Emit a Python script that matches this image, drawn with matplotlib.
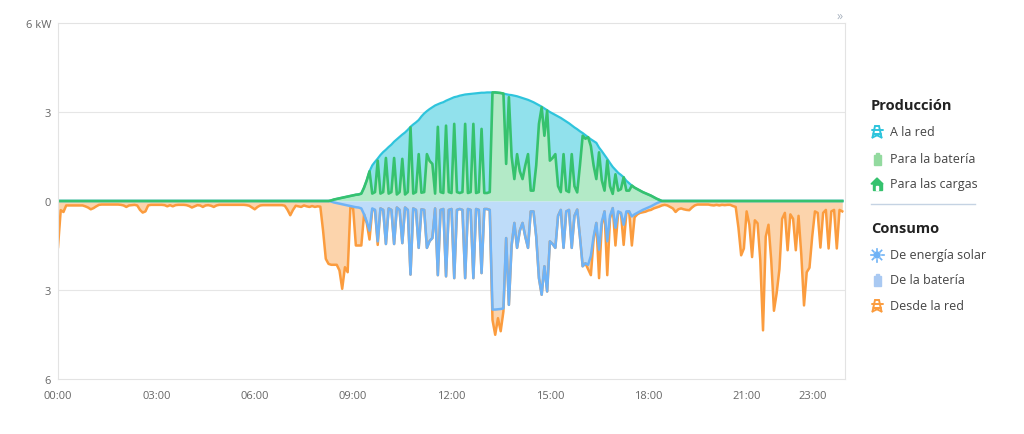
import numpy as np
import matplotlib.pyplot as plt
from matplotlib.patches import Rectangle, Polygon, Circle

plt.rcParams['font.family'] = ['Open Sans', 'DejaVu Sans']

# datos cada 5 minutos (kW), una fila = una hora
produccion_total = (
    [0.0] * 96 +
    [0, 0, 0, 0, 0.02, 0.05, 0.07, 0.09, 0.11, 0.13, 0.15, 0.17] +            # 08
    [0.19, 0.21, 0.22, 0.25, 0.45, 0.7, 1.0, 1.2, 1.32, 1.43, 1.55, 1.65] +    # 09
    [1.73, 1.82, 1.9, 2.0, 2.08, 2.16, 2.24, 2.31, 2.4, 2.5, 2.58, 2.65] +     # 10
    [2.73, 2.85, 2.95, 3.03, 3.1, 3.16, 3.22, 3.26, 3.3, 3.33, 3.38, 3.42] +   # 11
    [3.46, 3.5, 3.52, 3.55, 3.57, 3.59, 3.6, 3.61, 3.62, 3.63, 3.64, 3.65] +   # 12
    [3.65, 3.66, 3.66, 3.66, 3.66, 3.65, 3.64, 3.62, 3.6, 3.58, 3.57, 3.55] +  # 13
    [3.53, 3.5, 3.47, 3.44, 3.41, 3.37, 3.33, 3.28, 3.23, 3.18, 3.12, 3.06] +  # 14
    [3.0, 2.95, 2.9, 2.85, 2.8, 2.74, 2.68, 2.62, 2.55, 2.48, 2.42, 2.35] +    # 15
    [2.29, 2.22, 2.15, 2.08, 2.02, 1.96, 1.8, 1.68, 1.55, 1.42, 1.28, 1.15] +  # 16
    [1.05, 0.95, 0.88, 0.8, 0.68, 0.6, 0.52, 0.45, 0.4, 0.35, 0.3, 0.26] +     # 17
    [0.22, 0.18, 0.13, 0.08, 0.04, 0, 0, 0, 0, 0, 0, 0] +                      # 18
    [0.0] * 60
)

para_las_cargas = (
    [0.0] * 96 +
    [0, 0, 0, 0, 0.02, 0.05, 0.07, 0.09, 0.11, 0.13, 0.15, 0.17] +            # 08
    [0.19, 0.21, 0.22, 0.25, 0.45, 0.7, 1.0, 0.25, 0.3, 1.36, 0.25, 0.3] +     # 09
    [1.45, 0.25, 0.3, 1.45, 0.22, 0.3, 1.42, 0.22, 0.3, 2.48, 0.25, 0.3] +     # 10
    [1.58, 0.28, 0.3, 1.58, 1.35, 1.25, 0.25, 2.5, 0.3, 0.27, 2.54, 0.3] +     # 11
    [0.27, 2.6, 0.3, 0.27, 0.3, 2.6, 0.27, 0.3, 2.6, 0.27, 0.3, 2.43] +        # 12
    [0.27, 0.27, 0.3, 3.66, 3.66, 3.65, 3.64, 3.62, 1.25, 3.5, 1.5, 0.74] +    # 13
    [1.58, 1.0, 0.74, 1.2, 1.58, 0.35, 0.35, 1.2, 2.6, 3.16, 2.2, 3.05] +      # 14
    [1.36, 1.45, 1.58, 0.5, 0.3, 1.58, 0.35, 0.3, 1.58, 0.5, 0.29, 1.2] +      # 15
    [2.2, 2.1, 2.15, 1.85, 1.2, 0.74, 1.64, 0.7, 0.35, 1.36, 0.5, 0.24] +      # 16
    [0.9, 0.35, 0.4, 0.8, 0.35, 0.35, 0.52, 0.45, 0.4, 0.35, 0.3, 0.26] +      # 17
    [0.22, 0.18, 0.13, 0.08, 0.04, 0, 0, 0, 0, 0, 0, 0] +                      # 18
    [0.0] * 60
)

# lo consumido de la energía solar coincide con lo producido para las cargas
de_energia_solar = para_las_cargas

desde_la_red = (
    [1.55, 0.31, 0.37, 0.15, 0.15, 0.15, 0.15, 0.15, 0.15, 0.15, 0.18, 0.22] +  # 00
    [0.28, 0.24, 0.18, 0.13, 0.12, 0.12, 0.12, 0.12, 0.12, 0.12, 0.12, 0.13] +  # 01
    [0.15, 0.2, 0.15, 0.14, 0.13, 0.15, 0.3, 0.39, 0.35, 0.15, 0.13, 0.13] +    # 02
    [0.13, 0.13, 0.13, 0.14, 0.18, 0.14, 0.18, 0.14, 0.13, 0.13, 0.13, 0.14] +  # 03
    [0.17, 0.22, 0.18, 0.14, 0.15, 0.2, 0.15, 0.14, 0.16, 0.2, 0.15, 0.13] +    # 04
    [0.13, 0.13, 0.13, 0.13, 0.13, 0.13, 0.13, 0.13, 0.13, 0.14, 0.16, 0.22] +  # 05
    [0.28, 0.2, 0.15, 0.14, 0.14, 0.14, 0.14, 0.14, 0.14, 0.14, 0.14, 0.16] +   # 06
    [0.3, 0.48, 0.3, 0.16, 0.18, 0.2, 0.15, 0.18, 0.2, 0.17, 0.2, 0.18] +       # 07
    [0.19, 1.0, 1.95, 2.12, 2.13, 2.1, 2.08, 2.25, 2.85, 2.1, 2.25, 0.05] +     # 08
    [0.06, 1.29, 1.28, 1.25, 0, 0.05, 0.3, 0.05, 0, 0.12, 0, 0] +               # 09
    [0] * 12 +                                                                # 10
    [0] * 12 +                                                                # 11
    [0] * 12 +                                                                # 12
    [0, 0, 0, 0.35, 0.85, 0.3, 0.75, 0.1, 0, 0, 0, 0] +                       # 13
    [0] * 12 +                                                                # 14
    [0] * 12 +                                                                # 15
    [0, 0, 0.15, 0.65, 0.1, 0, 0.96, 0.1, 0, 1.14, 0.1, 0] +                  # 16
    [0.6, 0.05, 0, 0.68, 0.05, 0, 0.98, 0.1, 0.05, 0.05, 0.08, 0.1] +         # 17
    [0.1, 0.12, 0.12, 0.14, 0.15, 0.15, 0.13, 0.15, 0.2, 0.25, 0.37, 0.28] +  # 18
    [0.25, 0.28, 0.3, 0.31, 0.22, 0.15, 0.12, 0.12, 0.12, 0.12, 0.12, 0.14] + # 19
    [0.15, 0.13, 0.15, 0.13, 0.14, 0.13, 0.13, 0.17, 0.2, 0.9, 1.83, 1.6] +   # 20
    [0.35, 0.8, 1.89, 0.65, 0.75, 2.0, 4.36, 1.2, 0.8, 2.0, 3.7, 3.1] +       # 21
    [2.3, 0.6, 0.4, 1.66, 0.45, 0.6, 1.66, 0.5, 1.8, 3.52, 2.4, 2.25] +       # 22
    [1.2, 0.35, 0.4, 1.57, 0.4, 0.3, 1.6, 0.35, 0.3, 1.6, 0.3, 0.35]          # 23
)

horas = [0, 3, 6, 9, 12, 15, 18, 21, 23]
etiquetas_horas = ['00:00', '03:00', '06:00', '09:00', '12:00', '15:00', '18:00', '21:00', '23:00']

c_cian, f_cian = '#2ec4dc', '#91e1ec'
c_verde, f_verde = '#36c26e', '#b3eac7'
c_azul, f_azul = '#6fb3f6', '#bedcf9'
c_naranja, f_naranja = '#fb9c3e', '#fcd4ac'

t = np.arange(len(produccion_total)) / 12.0
total = np.array(produccion_total)
cargas = np.array(para_las_cargas)
solar = np.array(de_energia_solar)
consumo = solar + np.array(desde_la_red)

fig = plt.figure(figsize=(10.24, 4.35), dpi=100)
ax = fig.add_axes([58 / 1024, 1 - 380 / 435, (845 - 58) / 1024, 356 / 435])

ax.fill_between(t, 0, cargas, color=f_verde, lw=0)
ax.fill_between(t, cargas, total, color=f_cian, lw=0)
ax.fill_between(t, 0, -solar, color=f_azul, lw=0)
ax.fill_between(t, -solar, -consumo, color=f_naranja, lw=0)
ax.plot(t, -consumo, color=c_naranja, lw=1.8, solid_joinstyle='round')
ax.plot(t, -solar, color=c_azul, lw=1.8, solid_joinstyle='round')
ax.plot(t, total, color=c_cian, lw=1.6, solid_joinstyle='round')
ax.plot(t, cargas, color=c_verde, lw=1.9, solid_joinstyle='round')

ax.set_xlim(0, 24)
ax.set_ylim(-6, 6)
ax.set_xticks(horas, etiquetas_horas)
ax.set_yticks([-6, -3, 0, 3, 6], ['6', '3', '0', '3', '6 kW'])
ax.tick_params(length=0, labelsize=8, colors='#666666')
ax.tick_params(axis='x', pad=8)
ax.tick_params(axis='y', pad=5)
for y in (-3, 3):
    ax.axhline(y, color='#e6e6e6', lw=0.8, zorder=0)
for s in ax.spines.values():
    s.set_color('#e3e3e3')
    s.set_linewidth(0.8)

# leyenda dibujada en coordenadas de píxel
lax = fig.add_axes([0, 0, 1, 1])
lax.set_xlim(0, 1024)
lax.set_ylim(435, 0)
lax.axis('off')


def torre(x, y, c):
    kw = dict(color=c, lw=1.4, solid_capstyle='round')
    lax.plot([x - 2, x + 2], [y - 6, y - 6], **kw)
    lax.plot([x - 2, x - 4.5], [y - 6, y + 5.5], **kw)
    lax.plot([x + 2, x + 4.5], [y - 6, y + 5.5], **kw)
    lax.plot([x - 5.5, x + 5.5], [y - 2.5, y - 2.5], **kw)
    lax.plot([x - 3.5, x + 3.5], [y + 1.5, y + 1.5], **kw)
    lax.plot([x - 3.5, x + 4.5], [y + 1.5, y + 5.5], **kw)
    lax.plot([x + 3.5, x - 4.5], [y + 1.5, y + 5.5], **kw)


def bateria(x, y, c):
    lax.add_patch(Rectangle((x - 3.5, y - 4.5), 7, 10.5, color=c))
    lax.add_patch(Rectangle((x - 1.5, y - 6.5), 3, 2, color=c))


def casa(x, y, c):
    lax.add_patch(Polygon([(x - 6, y), (x, y - 6), (x + 6, y)], color=c))
    lax.add_patch(Rectangle((x - 4.5, y - 1), 9, 6.5, color=c))
    lax.add_patch(Rectangle((x - 1, y + 1.5), 2, 4, color='white'))


def sol(x, y, c):
    lax.add_patch(Circle((x, y), 3, color=c))
    for a in np.arange(8) * np.pi / 4:
        lax.plot([x + 4.5 * np.cos(a), x + 6.5 * np.cos(a)],
                 [y + 4.5 * np.sin(a), y + 6.5 * np.sin(a)], color=c, lw=1.2)


lax.text(871, 106, 'Producción', fontsize=10.5, fontweight='bold', va='center', color='#222222')
lax.text(871, 229, 'Consumo', fontsize=10.5, fontweight='bold', va='center', color='#222222')
lax.plot([871, 975], [205, 205], color='#c5d3e3', lw=1)

items = [
    (133, 'A la red', torre, c_cian),
    (160, 'Para la batería', bateria, '#93da9f'),
    (185, 'Para las cargas', casa, c_verde),
    (256, 'De energía solar', sol, c_azul),
    (281, 'De la batería', bateria, '#a9c9f2'),
    (307, 'Desde la red', torre, c_naranja),
]
for y, nombre, icono, c in items:
    icono(877, y, c)
    lax.text(890, y, nombre, fontsize=9, va='center', color='#444444')

lax.text(840, 16, '»', fontsize=9, ha='center', va='center', color='#aab4c0')

fig.savefig('out.png', dpi=100, facecolor='white')
